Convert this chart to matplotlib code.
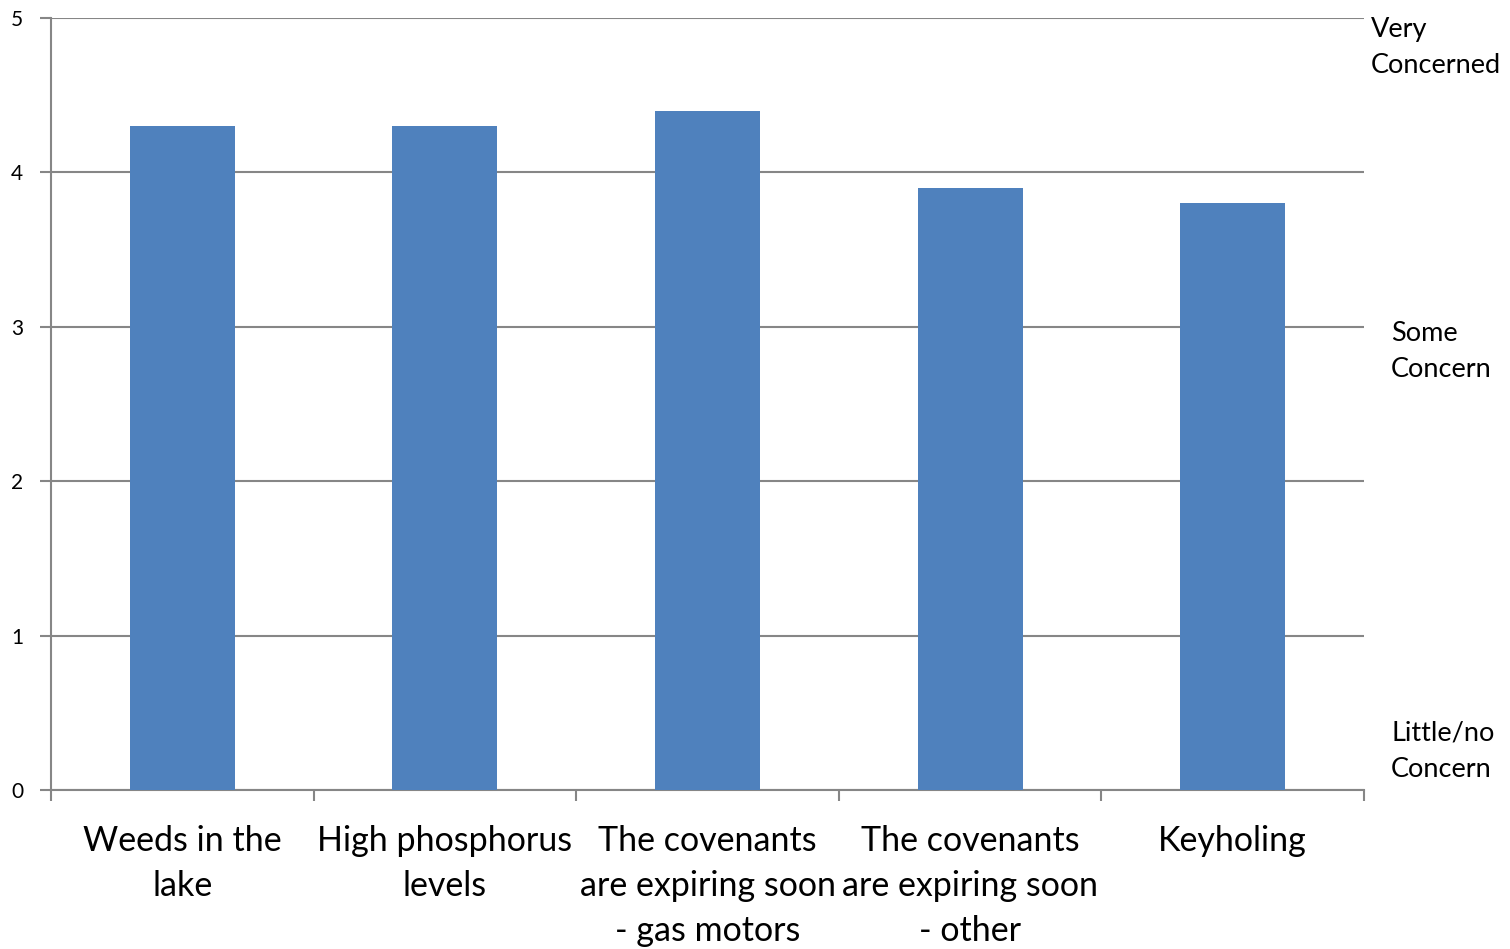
import matplotlib.pyplot as plt
import matplotlib.transforms as mtransforms
import numpy as np

categories = ["Weeds in the\nlake", "High phosphorus\nlevels",
              "The covenants\nare expiring soon\n- gas motors",
              "The covenants\nare expiring soon\n- other", "Keyholing"]
values = [4.3, 4.3, 4.4, 3.9, 3.8]
yticks = [0, 1, 2, 3, 4, 5]
scale_labels = ["Very\nConcerned", "Some\nConcern", "Little/no\nConcern"]
scale_pos = [4.81, 2.84, 0.25]
scale_x = [1.0053, 1.0206, 1.0206]

plt.rcParams['font.family'] = ['Lato', 'DejaVu Sans']
grey = '#868686'

fig = plt.figure(figsize=(15.1, 9.49), dpi=100)
ax = fig.add_axes([51 / 1510, 1 - 790 / 949, 1313 / 1510, 772 / 949])

x = np.arange(len(values))
ax.bar(x, values, width=0.4, color='#4F81BD', zorder=3)

ax.set_xlim(-0.5, len(values) - 0.5)
ax.set_ylim(0, 5)
ax.set_yticks(yticks)
ax.set_yticklabels([str(t) for t in yticks], fontsize=15)
ax.yaxis.grid(True, color=grey, linewidth=1.5, zorder=0)

# category labels centred, tick marks on category boundaries
ax.set_xticks(x)
ax.set_xticklabels(categories, fontsize=24.5, linespacing=1.5)
ax.tick_params(axis='x', length=0, pad=25)
ax.set_xticks(np.arange(len(values) + 1) - 0.5, minor=True)
ax.tick_params(axis='x', which='minor', length=8, width=1.5, color=grey)
ax.tick_params(axis='y', length=8, width=1.5, color=grey, pad=12)

for s in ['top', 'right']:
    ax.spines[s].set_visible(False)
for s in ['left', 'bottom']:
    ax.spines[s].set_color(grey)
    ax.spines[s].set_linewidth(1.5)

trans = mtransforms.blended_transform_factory(ax.transAxes, ax.transData)
for lab, yv, xv in zip(scale_labels, scale_pos, scale_x):
    ax.text(xv, yv, lab, transform=trans, ha='left', va='center',
            fontsize=19.5, linespacing=1.55)

fig.savefig('out.png', dpi=100)
